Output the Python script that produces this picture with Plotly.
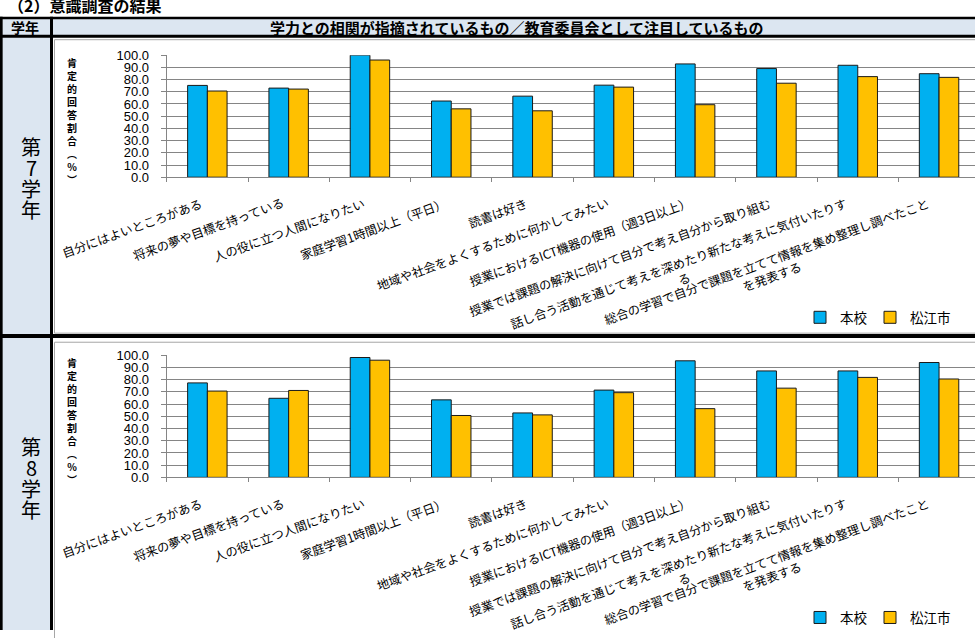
import plotly.graph_objects as go

# ---------------- data ----------------
categories = [
    "自分にはよいところがある",
    "将来の夢や目標を持っている",
    "人の役に立つ人間になりたい",
    "家庭学習1時間以上（平日）",
    "読書は好き",
    "地域や社会をよくするために何かしてみたい",
    "授業におけるICT機器の使用（週3日以上）",
    "授業では課題の解決に向けて自分で考え自分から取り組む",
    "話し合う活動を通じて考えを深めたり新たな考えに気付いたりする",
    "総合の学習で自分で課題を立てて情報を集め整理し調べたことを発表する",
]
category_labels = [
    "自分にはよいところがある",
    "将来の夢や目標を持っている",
    "人の役に立つ人間になりたい",
    "家庭学習1時間以上（平日）",
    "読書は好き",
    "地域や社会をよくするために何かしてみたい",
    "授業におけるICT機器の使用（週3日以上）",
    "授業では課題の解決に向けて自分で考え自分から取り組む",
    "話し合う活動を通じて考えを深めたり新たな考えに気付いたりす<br>る",
    "総合の学習で自分で課題を立てて情報を集め整理し調べたこと<br>を発表する",
]
grade7_school = [75.2, 73.0, 100.0, 62.4, 66.4, 75.4, 92.8, 89.0, 91.7, 84.8]
grade7_city = [70.6, 72.2, 96.0, 56.0, 54.4, 73.8, 59.4, 77.0, 82.4, 81.8]
grade8_school = [77.4, 64.8, 98.2, 63.5, 52.8, 71.5, 95.5, 87.2, 87.2, 94.1]
grade8_city = [70.7, 71.2, 96.0, 50.7, 51.2, 69.4, 56.3, 73.1, 81.9, 80.6]
series_names = ["本校", "松江市"]
grade_names = ["第7学年", "第8学年"]
y_tick_values = [0, 10, 20, 30, 40, 50, 60, 70, 80, 90, 100]
y_title = "肯定的回答割合（%）"
page_title = "（2）意識調査の結果"
header_grade = "学年"
header_title = "学力との相関が指摘されているもの／教育委員会として注目しているもの"

# ---------------- styling ----------------
W, H = 975, 638
BLUE = "#00B0F0"
ORANGE = "#FFC000"
HEAD_BG = "#DCE6F1"
GRID = "#858585"
AXIS = "#858585"
JP = "Noto Sans CJK JP"
NUM = "Liberation Sans, Arial"


def px(x):
    return x / W


def py(y):
    return 1 - y / H


fig = go.Figure()

panel_offset = [0.0, 307.4]
xaxes = ["x", "x2"]
yaxes = ["y", "y2"]
data_sets = [(grade7_school, grade7_city), (grade8_school, grade8_city)]
legend_ids = [("legend", "legend2"), ("legend3", "legend4")]

for p in range(2):
    school, city = data_sets[p]
    for vals, name, color, lg in zip((school, city), series_names, (BLUE, ORANGE), legend_ids[p]):
        fig.add_trace(go.Bar(
            x=categories, y=vals, name=name,
            marker=dict(color=color, line=dict(color="#1a1a1a", width=1)),
            xaxis=xaxes[p], yaxis=yaxes[p], legend=lg, showlegend=True,
            hoverinfo="x+y+name",
        ))

x_dom = [px(166.7), 1.0]
x_range = [-0.5, -0.5 + (W - 166.7) / 81.3]

layout_axes = {}
for p in range(2):
    off = panel_offset[p]
    xa = "xaxis" if p == 0 else "xaxis2"
    ya = "yaxis" if p == 0 else "yaxis2"
    layout_axes[xa] = dict(
        domain=x_dom, range=x_range, type="category",
        categoryorder="array", categoryarray=categories,
        anchor=yaxes[p], showticklabels=False,
        ticks="outside", tickson="boundaries", ticklen=4, tickcolor=AXIS,
        showline=True, linecolor=AXIS, linewidth=1, showgrid=False, zeroline=False,
        fixedrange=True,
    )
    layout_axes[ya] = dict(
        domain=[py(174.3 + off), py(49.3 + off)], range=[0, 100],
        anchor=xaxes[p], tickvals=y_tick_values, tickformat=".1f",
        ticks="outside", ticklen=5, tickcolor=AXIS, ticklabelstandoff=9,
        tickfont=dict(family=NUM, size=13, color="#000"),
        showline=True, linecolor=AXIS, linewidth=1,
        showgrid=True, gridcolor=GRID, gridwidth=1.2, zeroline=False,
        fixedrange=True,
    )

shapes = []
# header band and left column fills
shapes.append(dict(type="rect", xref="paper", yref="paper", x0=px(0), x1=px(W), y0=py(31), y1=py(11),
                   fillcolor=HEAD_BG, line=dict(width=0), layer="below"))
shapes.append(dict(type="rect", xref="paper", yref="paper", x0=px(0), x1=px(51), y0=py(H), y1=py(31),
                   fillcolor=HEAD_BG, line=dict(width=0), layer="below"))
# chart frames
for off, (t, b) in zip(panel_offset, [(33.5, 334.0), (343.3, 650)]):
    shapes.append(dict(type="rect", xref="paper", yref="paper", x0=px(54.5), x1=px(990),
                       y0=py(b), y1=py(t), line=dict(color="#a6a6a6", width=1),
                       fillcolor="rgba(0,0,0,0)", layer="below"))
# black table lines
black_lines = [
    (0, 11.2, W, 11.2, 2.5),
    (0, 30.0, W, 30.0, 3.0),
    (0, 337.0, W, 337.0, 4.0),
    (1.3, 10, 1.3, H, 2.7),
    (51.5, 10, 51.5, H, 3.0),
]
for x0, y0, x1, y1, w in black_lines:
    shapes.append(dict(type="line", xref="paper", yref="paper", x0=px(x0), x1=px(x1),
                       y0=py(y0), y1=py(y1), line=dict(color="#000", width=w), layer="above"))

ann = []
ann.append(dict(text=page_title, xref="paper", yref="paper", x=px(6), y=py(-2), xanchor="left",
                yanchor="middle", showarrow=False, font=dict(family=JP, size=16, color="#000", weight="bold")))
ann.append(dict(text=header_grade, xref="paper", yref="paper", x=px(25), y=py(20.5), xanchor="center",
                yanchor="middle", showarrow=False, font=dict(family=JP, size=14, color="#000", weight="bold")))
ann.append(dict(text=header_title, xref="paper", yref="paper", x=px(517), y=py(20.5), xanchor="center",
                yanchor="middle", showarrow=False, font=dict(family=JP, size=15, color="#000", weight="bold")))

vert_title = "<br>".join({"（": "︵", "）": "︶"}.get(c, c) for c in y_title)
for p in range(2):
    off = panel_offset[p]
    for i, ch in enumerate(grade_names[p]):
        ann.append(dict(text=ch, xref="paper", yref="paper", x=px(31), y=py(142.5 + 21.5 * i + off),
                        xanchor="center", yanchor="middle", showarrow=False,
                        font=dict(family=JP, size=20, color="#000")))
    ann.append(dict(text=vert_title, xref="paper", yref="paper", x=px(72), y=py(117 + off),
                    xanchor="center", yanchor="middle", showarrow=False,
                    font=dict(family=JP, size=10, color="#000", weight="bold")))
    for i, lab in enumerate(category_labels):
        ann.append(dict(text=lab, xref=xaxes[p], yref=yaxes[p], x=i, y=0, xanchor="right",
                        yanchor="top", yshift=-14, textangle=-20, align="center", showarrow=False,
                        font=dict(family=JP, size=12.3, color="#000")))

legend_common = dict(orientation="h", xanchor="left", yanchor="middle", bgcolor="rgba(0,0,0,0)",
                     borderwidth=0, font=dict(family=JP, size=13.5, color="#000"), itemclick=False)
legends = {}
for p in range(2):
    off = panel_offset[p]
    l1, l2 = legend_ids[p]
    legends[l1] = dict(legend_common, x=px(800), y=py(318 + off))
    legends[l2] = dict(legend_common, x=px(870), y=py(318 + off))

fig.update_layout(
    width=W, height=H, margin=dict(l=0, r=0, t=0, b=0),
    paper_bgcolor="white", plot_bgcolor="rgba(0,0,0,0)",
    barmode="group", bargap=0.515, bargroupgap=0,
    shapes=shapes, annotations=ann, **layout_axes, **legends,
)

fig.write_html(
    "out.html",
    config={"displayModeBar": False},
    post_script="document.body.style.margin='0';document.body.style.overflow='hidden';",
)
